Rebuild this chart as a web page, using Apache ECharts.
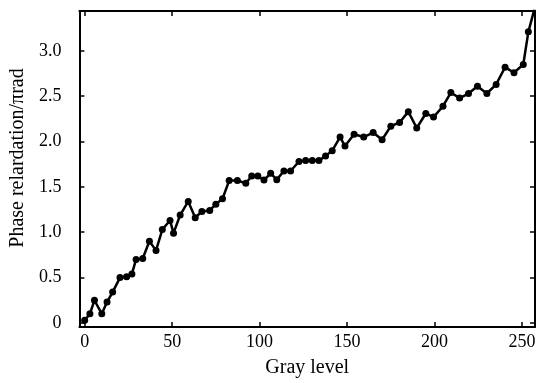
<!DOCTYPE html>
<html>
<head>
<meta charset="utf-8">
<script src="https://cdn.jsdelivr.net/npm/echarts@6/dist/echarts.min.js"></script>
<style>
  html, body { margin: 0; padding: 0; background: #fff; }
  #chart { width: 540px; height: 383px; }
</style>
</head>
<body>
<div id="chart"></div>
<script>
// gray level of each measured point
const grayLevel = [0, 3, 5.6, 9.8, 12.8, 16, 20.2, 24, 27, 29.4, 33.2, 37, 40.8, 44.4, 48.8, 50.8,
  54.6, 59.2, 63.2, 67, 71.5, 75, 78.8, 82.6, 87.3, 92.1, 95.5, 99, 102.5, 106.3, 109.8,
  113.9, 117.7, 122.5, 126.3, 130.1, 133.9, 137.7, 141.5, 146, 148.8, 154, 159.5, 164.9,
  170, 175, 180, 185, 189.8, 195, 199.4, 204.8, 209.3, 214.3, 219.4, 224.5, 229.9, 235.2,
  240.3, 245.4, 250.7, 253.6, 257.6];
// phase relardation in units of pi rad
const phase = [0.03, 0.1, 0.25, 0.1, 0.23, 0.34, 0.5, 0.51, 0.54, 0.7, 0.71, 0.9, 0.8, 1.03, 1.13, 0.99,
  1.19, 1.34, 1.16, 1.23, 1.24, 1.31, 1.37, 1.57, 1.57, 1.54, 1.62, 1.62, 1.575, 1.65, 1.58,
  1.675, 1.675, 1.78, 1.79, 1.79, 1.79, 1.84, 1.9, 2.05, 1.95, 2.08, 2.05, 2.1,
  2.02, 2.17, 2.21, 2.33, 2.15, 2.31, 2.27, 2.39, 2.54, 2.48, 2.53, 2.61, 2.53, 2.63,
  2.82, 2.76, 2.85, 3.21, 3.5];
const xTicks = [0, 50, 100, 150, 200, 250];
const yTicks = [0, 0.5, 1.0, 1.5, 2.0, 2.5, 3.0];

const chart = echarts.init(document.getElementById('chart'));
const font = 'Liberation Serif';
const lineStyle = { color: '#000', width: 2 };
const tickStyle = { inside: true, length: 5, lineStyle: { color: '#000', width: 1.5 } };

const points = grayLevel.map((g, i) => [g, phase[i]]);

chart.setOption({
  animation: false,
  grid: { left: 78, right: 5, top: 11, bottom: 56 },
  xAxis: [{
    type: 'value', min: -3, max: 257.4,
    name: 'Gray level', nameLocation: 'middle', nameGap: 31,
    nameTextStyle: { fontFamily: font, fontSize: 20, color: '#000' },
    axisLine: { onZero: false, lineStyle: lineStyle },
    axisTick: Object.assign({ customValues: xTicks }, tickStyle),
    axisLabel: { customValues: xTicks, fontFamily: font, fontSize: 18, color: '#000', margin: 6 },
    splitLine: { show: false }
  }, {
    type: 'value', min: -3, max: 257.4, position: 'top',
    axisLine: { onZero: false, lineStyle: lineStyle },
    axisTick: Object.assign({ customValues: xTicks }, tickStyle),
    axisLabel: { show: false },
    splitLine: { show: false }
  }],
  yAxis: [{
    type: 'value', min: -0.045, max: 3.44,
    name: 'Phase relardation/\u03c0rad', nameLocation: 'middle', nameGap: 44,
    nameTextStyle: { fontFamily: font, fontSize: 20, color: '#000', padding: [0, 0, 0, 22] },
    axisLine: { show: true, onZero: false, lineStyle: lineStyle },
    axisTick: Object.assign({ customValues: yTicks }, tickStyle),
    axisLabel: {
      customValues: yTicks, fontFamily: font, fontSize: 18, color: '#000', margin: 18,
      formatter: v => v === 0 ? '0' : v.toFixed(1)
    },
    splitLine: { show: false }
  }, {
    type: 'value', min: -0.045, max: 3.44, position: 'right',
    axisLine: { show: true, onZero: false, lineStyle: lineStyle },
    axisTick: Object.assign({ customValues: yTicks }, tickStyle),
    axisLabel: { show: false },
    splitLine: { show: false }
  }],
  series: [{
    type: 'line',
    data: points,
    clip: true,
    symbol: 'circle',
    symbolSize: 7,
    showAllSymbol: true,
    itemStyle: { color: '#000' },
    lineStyle: { color: '#000', width: 2.5 }
  }]
});
</script>
</body>
</html>
